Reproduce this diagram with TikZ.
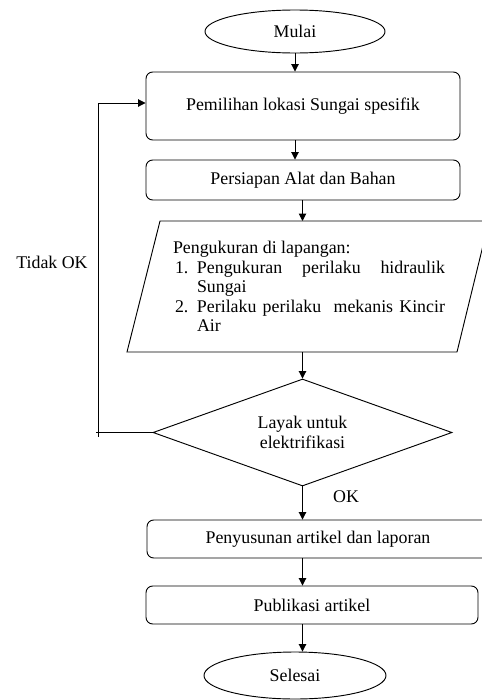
\documentclass[tikz,border=0pt]{standalone}
\usepackage{fontspec}
\setmainfont{Liberation Serif}
\usetikzlibrary{arrows.meta,shapes.geometric}
\tikzset{
  px/.style={x=0.75pt,y=-0.75pt},
  garis/.style={line width=0.7pt},
  blok/.style={draw, garis, rounded corners=5pt, inner sep=0pt},
  ujung/.style={draw, garis, ellipse, inner sep=0pt},
  keputusan/.style={draw, garis, diamond, aspect=2.8, inner sep=0pt, align=center},
  panah/.style={garis, -{Triangle[length=5.5pt,width=5.5pt]}},
}

\begin{document}
\begin{tikzpicture}[px, font=\fontsize{13.4}{14.6}\selectfont]
\useasboundingbox (0,0) rectangle (482,700);
\clip (0,0) rectangle (482,700);
% Mulai
\node[ujung, minimum width=135pt, minimum height=32.25pt] (mulai) at (295,31.5) {Mulai};
% Kotak proses atas
\node[blok, minimum width=235.5pt, minimum height=51pt] (pemilihan) at (303,106) {Pemilihan lokasi Sungai spesifik};
\node[blok, minimum width=235.5pt, minimum height=30pt] (persiapan) at (303,180) {Persiapan Alat dan Bahan};
% Jajaran genjang pengukuran
\draw[garis] (160,221) -- (489,221) -- (457,352) -- (127,352) -- cycle;
\coordinate (ukur-atas) at (304,221);
\coordinate (ukur-bawah) at (304,352);
\node[inner sep=0pt, text width=204pt, align=justify] (ukur) at (309,286.5) {%
  \tolerance=9999\hyphenpenalty=10000\parindent=0pt
  Pengukuran di lapangan:\par
  \hangindent=18pt\hangafter=1\makebox[18pt][l]{\hspace{1.5pt}1.}Pengukuran perilaku hidraulik Sungai\par
  \hangindent=18pt\hangafter=1\makebox[18pt][l]{\hspace{1.5pt}2.}Perilaku perilaku\ \ mekanis Kincir Air\par};
% Keputusan
\node[keputusan, minimum width=224.25pt, minimum height=80.25pt] (layak) at (302.5,432.5) {Layak untuk\\[0.6pt]elektrifikasi};
% Kotak proses bawah
\node[blok, minimum width=256.5pt, minimum height=28.5pt] (penyusunan) at (318,539) {Penyusunan artikel dan laporan};
\node[blok, minimum width=249pt, minimum height=28.5pt] (publikasi) at (312,605) {Publikasi artikel};
% Selesai
\node[ujung, minimum width=136.5pt, minimum height=35.25pt] (selesai) at (295,675.5) {Selesai};
% Label cabang
\node (tidakok) at (52,262) {Tidak OK};
\node (ok) at (346,497) {OK};
% Alur utama
\draw[panah] (mulai.south) -- (mulai.south |- pemilihan.north);
\draw[panah] (pemilihan.south -| mulai) -- (persiapan.north -| mulai);
\draw[panah] (persiapan.south -| layak) -- (ukur-atas -| layak);
\draw[panah] (ukur-bawah -| layak) -- (layak.north);
\draw[panah] (layak.south) -- (layak.south |- penyusunan.north);
\draw[panah] (penyusunan.south -| layak) -- (publikasi.north -| layak);
\draw[panah] (publikasi.south -| layak) -- (selesai.north -| layak);
% Alur balik (Tidak OK)
\coordinate (sudut) at (98,432.5);
\draw[garis] (layak.west) -- ([xshift=-1.5pt]sudut);
\draw[panah] ([yshift=-3pt]sudut) |- ([yshift=2.25pt]pemilihan.west);
\end{tikzpicture}
\end{document}
